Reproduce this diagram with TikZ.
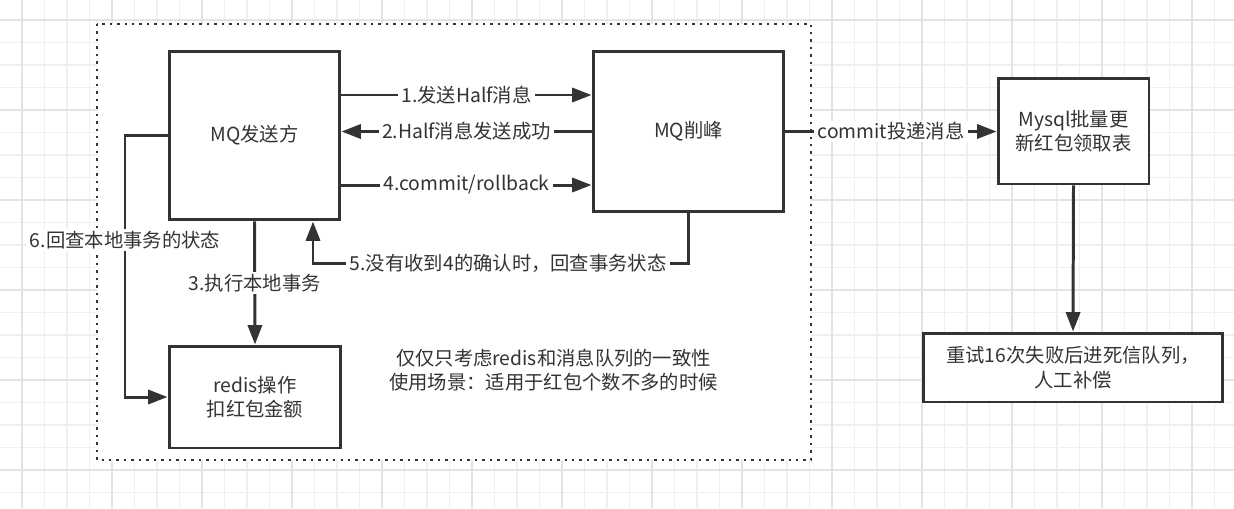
\documentclass[tikz,border=0pt]{standalone}
\usepackage{fontspec}
\setmainfont{Noto Sans CJK SC}
\usetikzlibrary{arrows.meta}
\definecolor{ink}{HTML}{333333}
\definecolor{gridminor}{HTML}{EFEFEF}
\definecolor{gridmajor}{HTML}{E3E3E3}
\begin{document}
\begin{tikzpicture}[x=0.02cm,y=-0.02cm,
    font=\fontsize{11}{14}\selectfont,
    box/.style={draw=ink,line width=1.7pt,fill=white,text=ink,align=center,inner sep=0pt},
    lbl/.style={fill=white,text=ink,inner xsep=2pt,inner ysep=1pt},
    arr/.style={draw=ink,line width=1.7pt,-{Triangle[length=11pt,width=8pt]}}]
    \useasboundingbox[fill=white] (0,0) rectangle (1234,508);
    % grid
    \foreach \gx in {22,44.5,...,1215} \draw[gridminor,line width=0.6pt] (\gx,0) -- (\gx,508);
    \foreach \gy in {20,42.5,...,493} \draw[gridminor,line width=0.6pt] (0,\gy) -- (1234,\gy);
    \foreach \gx in {22,112,...,1200} \draw[gridmajor,line width=0.6pt] (\gx,0) -- (\gx,508);
    \foreach \gy in {20,110,...,480} \draw[gridmajor,line width=0.6pt] (0,\gy) -- (1234,\gy);
    % dotted frame
    \draw[ink,line width=1.6pt,dash pattern=on 1.4pt off 2.85pt,fill=white] (97,24) rectangle (811,460);

    \node[box,minimum width=3.42cm,minimum height=3.38cm] (MQS) at (254.5,135.5) {MQ发送方};
    \node[box,minimum width=3.82cm,minimum height=3.22cm] (MQP) at (688.5,131.5) {MQ削峰};
    \node[box,minimum width=3.02cm,minimum height=2.12cm] (DB) at (1073.5,131) {Mysql批量更\\新红包领取表};
    \node[box,minimum width=6cm,minimum height=1.38cm] (DLQ) at (1073,367.5) {重试16次失败后进死信队列，\\人工补偿};
    \node[box,minimum width=3.44cm,minimum height=2.04cm] (RD) at (255,397) {redis操作\\扣红包金额};
    \node[text=ink,align=center] (note) at (553.5,370) {仅仅只考虑redis和消息队列的一致性\\使用场景：适用于红包个数不多的时候};

    \coordinate (h1) at (0,95);
    \coordinate (h4) at (0,185);
    \coordinate (h5) at (0,263);
    \coordinate (v5) at (313,0);
    \coordinate (v6) at (125,0);

    \draw[arr] (MQS.east |- h1) -- node[lbl]{1.发送Half消息} (MQP.west |- h1);
    \draw[arr] (MQP.west) -- node[lbl]{2.Half消息发送成功} (MQP.west -| MQS.east);
    \draw[arr] (MQS.east |- h4) -- node[lbl]{4.commit/rollback} (MQP.west |- h4);
    \draw[arr] (MQP.south) |- node[lbl,pos=0.74]{5.没有收到4的确认时，回查事务状态} (v5 |- h5) -- (v5 |- MQS.south);
    \draw[arr] (MQS.south) -- node[lbl]{3.执行本地事务} (RD.north);
    \draw[arr] (MQS.west) -- (v6 |- MQS.west) |- node[lbl,pos=0.2]{6.回查本地事务的状态} (RD.west);
    \draw[arr] (MQP.east) -- node[lbl]{commit投递消息} (MQP.east -| DB.west);
    \draw[arr] (DB.south) -- (DLQ.north);
\end{tikzpicture}
\end{document}
